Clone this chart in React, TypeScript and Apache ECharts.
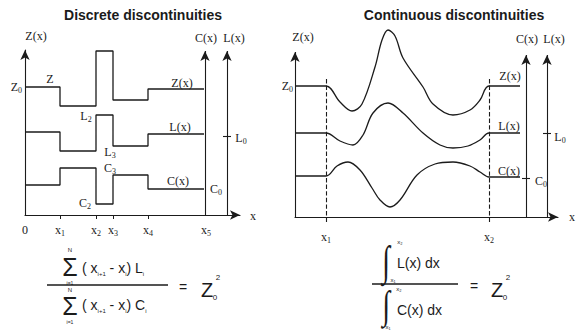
import React, { useEffect, useRef } from "react";
import * as echarts from "echarts";

// ---------- data ----------
// Left panel: discrete steps. x positions of the steps (0, x1..x4, end of curves)
const leftBreaks = [0, 35, 71, 88, 123, 179];
const leftTickValues = [35, 71, 88, 123];
const leftLabelValues = [0, 35, 71, 88, 123, 181];
const leftLabelNames = ["0", "x1", "x2", "x3", "x4", "x5"];
const zDiscrete = [128, 109, 164, 115, 126];
const lDiscrete = [83, 64, 100, 69, 81];
const cDiscrete = [30, 47, 11, 40, 26];
const leftZ0 = 128;
const leftCAxis = 180;
const leftLAxis = 202;
const leftL0 = 79;
const leftAxisTop = 164;

// Right panel: continuous profiles [x, value]
const zContinuous = [
  [0, 131], [31, 131], [45, 115], [57, 106], [67, 113], [80, 150], [87, 177], [93, 187],
  [100, 181], [108, 159], [128, 130], [138, 113], [158, 102], [175, 107], [185, 117],
  [194, 131], [225, 131],
];
const lContinuous = [
  [0, 84], [31, 84], [45, 76], [58, 72], [68, 82], [78, 104], [93, 114], [108, 104],
  [128, 84], [145, 72], [158, 69], [173, 71], [185, 77], [194, 84], [225, 84],
];
const cContinuous = [
  [0, 41], [31, 41], [42, 51], [53, 55], [65, 47], [77, 29], [85, 17], [95, 10],
  [105, 17], [122, 42], [140, 53], [158, 55], [175, 51], [185, 45], [194, 40], [225, 40],
];
const rightBounds = [31, 194]; // x1, x2
const rightLabelNames = ["x1", "x2"];
const rightZ0 = 131;
const rightCAxis = 231;
const rightLAxis = 252;
const rightL0 = 84;
const rightC0 = 39;
const rightAxisTop = 162;
const rightZAxisTop = 165;
const rightDashBottom = -5;
const rightDashTop = 140;

// ---------- styles ----------
const SERIF = "'Liberation Serif', 'Times New Roman', serif";
const SANS = "'Liberation Sans', Arial, sans-serif";
const INK = "#1b1b1b";

const stepData = (levels: number[]) =>
  leftBreaks.map((x, i) => [x, levels[Math.min(i, levels.length - 1)]]);

const axisRich = {
  m: { fontFamily: SERIF, fontSize: 12, lineHeight: 15, color: INK },
  s: { fontFamily: SERIF, fontSize: 8, lineHeight: 9, verticalAlign: "bottom", color: INK },
};
const subLabel = (name: string) =>
  name.length > 1 ? `{m|${name[0]}}{s|${name.slice(1)}}` : `{m|${name}}`;

const lineStyle = { color: INK, width: 1.3 };
const axisLine = (arrow: boolean, show = true) => ({
  show,
  onZero: true,
  symbol: arrow ? ["none", "arrow"] : ["none", "none"],
  symbolSize: [7, 10],
  lineStyle: { color: INK, width: 1.1 },
});

const seg = (a: number[], b: number[], arrow = false, dashed = false) => [
  { coord: a, symbol: "none" },
  {
    coord: b,
    symbol: arrow ? "arrow" : "none",
    symbolSize: [7, 10],
    lineStyle: { type: dashed ? "dashed" : "solid", color: INK, width: 1.1 },
  },
];

// graphic text helper
const gtext = (x: number, y: number, text: string, opt: any = {}) => ({
  type: "text",
  x,
  y,
  silent: true,
  scaleY: opt.scaleY ?? 1,
  style: {
    text,
    font: opt.font ?? `12px ${SERIF}`,
    fill: INK,
    align: opt.align ?? "center",
    verticalAlign: "middle",
    textAlign: opt.align ?? "center",
    textVerticalAlign: "middle",
    rich: opt.rich,
  },
});

const serifRich = {
  m: { fontFamily: SERIF, fontSize: 12, lineHeight: 15, fill: INK },
  s: { fontFamily: SERIF, fontSize: 8, lineHeight: 9, verticalAlign: "bottom", fill: INK },
};
const sansRich = {
  m: { fontFamily: SANS, fontSize: 14, lineHeight: 18, fill: INK },
  s: { fontFamily: SANS, fontSize: 6, lineHeight: 8, verticalAlign: "bottom", fill: INK },
};
const lbl = (x: number, y: number, name: string) =>
  gtext(x, y, subLabel(name), { rich: serifRich });

const option: any = {
  animation: false,
  backgroundColor: "#ffffff",
  grid: [
    { left: 25, top: 50, width: 215, height: 165 },
    { left: 295, top: 52, width: 263, height: 170 },
  ],
  xAxis: [
    {
      gridIndex: 0, type: "value", min: 0, max: 215,
      axisLine: axisLine(true),
      axisTick: { show: true, customValues: leftTickValues, length: 4, lineStyle: { color: INK } },
      axisLabel: {
        show: true, customValues: leftLabelValues, margin: 7,
        formatter: (v: number) => subLabel(leftLabelNames[leftLabelValues.indexOf(v)] ?? ""),
        rich: axisRich,
      },
      splitLine: { show: false },
    },
    {
      gridIndex: 1, type: "value", min: 0, max: 263,
      axisLine: axisLine(true),
      axisTick: { show: false },
      axisLabel: {
        show: true, customValues: rightBounds, margin: 7,
        formatter: (v: number) => subLabel(rightLabelNames[rightBounds.indexOf(v)] ?? ""),
        rich: axisRich,
      },
      splitLine: { show: false },
    },
  ],
  yAxis: [
    {
      gridIndex: 0, type: "value", min: 0, max: 165,
      axisLine: axisLine(true),
      axisTick: { show: false },
      axisLabel: {
        show: true, customValues: [leftZ0], margin: 3,
        formatter: () => subLabel("Z0"), rich: axisRich,
      },
      splitLine: { show: false },
    },
    {
      gridIndex: 1, type: "value", min: -5, max: 165,
      axisLine: axisLine(false, false),
      axisTick: { show: false },
      axisLabel: {
        show: true, customValues: [rightZ0], margin: 2,
        formatter: () => subLabel("Z0"), rich: axisRich,
      },
      splitLine: { show: false },
    },
  ],
  series: [
    {
      name: "Z discrete", type: "line", xAxisIndex: 0, yAxisIndex: 0, step: "end",
      data: stepData(zDiscrete), symbol: "none", lineStyle, silent: true, clip: false,
      markLine: {
        silent: true, animation: false, symbol: ["none", "none"], label: { show: false },
        lineStyle: { color: INK, width: 1.1, type: "solid" },
        data: [
          seg([leftCAxis, 0], [leftCAxis, leftAxisTop], true),
          seg([leftLAxis, 0], [leftLAxis, leftAxisTop], true),
          seg([leftLAxis - 4, leftL0], [leftLAxis + 4, leftL0]),
        ],
      },
    },
    {
      name: "L discrete", type: "line", xAxisIndex: 0, yAxisIndex: 0, step: "end",
      data: stepData(lDiscrete), symbol: "none", lineStyle, silent: true, clip: false,
    },
    {
      name: "C discrete", type: "line", xAxisIndex: 0, yAxisIndex: 0, step: "end",
      data: stepData(cDiscrete), symbol: "none", lineStyle, silent: true, clip: false,
    },
    {
      name: "Z continuous", type: "line", xAxisIndex: 1, yAxisIndex: 1, smooth: 0.35,
      data: zContinuous, symbol: "none", lineStyle, silent: true, clip: false,
      markLine: {
        silent: true, animation: false, symbol: ["none", "none"], label: { show: false },
        lineStyle: { color: INK, width: 1.1, type: "solid" },
        data: [
          seg([0, 0], [0, rightZAxisTop], true),
          seg([rightBounds[0], rightDashBottom], [rightBounds[0], rightDashTop], false, true),
          seg([rightBounds[1], rightDashBottom], [rightBounds[1], rightDashTop], false, true),
          seg([rightCAxis, 0], [rightCAxis, rightAxisTop], true),
          seg([rightLAxis, 0], [rightLAxis, rightAxisTop], true),
          seg([rightLAxis - 4, rightL0], [rightLAxis + 4, rightL0]),
          seg([rightCAxis - 4, rightC0], [rightCAxis + 4, rightC0]),
        ],
      },
    },
    {
      name: "L continuous", type: "line", xAxisIndex: 1, yAxisIndex: 1, smooth: 0.35,
      data: lContinuous, symbol: "none", lineStyle, silent: true, clip: false,
    },
    {
      name: "C continuous", type: "line", xAxisIndex: 1, yAxisIndex: 1, smooth: 0.35,
      data: cContinuous, symbol: "none", lineStyle, silent: true, clip: false,
    },
  ],
  graphic: [
    // titles
    gtext(143, 15, "Discrete discontinuities", { font: `bold 14px ${SANS}` }),
    gtext(454, 15, "Continuous discontinuities", { font: `bold 14px ${SANS}` }),
    // left panel labels
    gtext(36, 36, "Z(x)"),
    gtext(206, 38, "C(x)"),
    gtext(234, 38, "L(x)"),
    gtext(50, 79, "Z"),
    gtext(182, 83, "Z(x)"),
    lbl(86, 116, "L2"),
    gtext(180, 127, "L(x)"),
    lbl(241, 138, "L0"),
    lbl(110, 152, "L3"),
    lbl(110, 168, "C3"),
    gtext(178, 181, "C(x)"),
    lbl(216, 189, "C0"),
    lbl(85, 203, "C2"),
    gtext(253, 216, "x"),
    // right panel labels
    gtext(303, 37, "Z(x)"),
    gtext(527, 39, "C(x)"),
    gtext(554, 39, "L(x)"),
    gtext(510, 76, "Z(x)"),
    gtext(509, 126, "L(x)"),
    gtext(509, 171, "C(x)"),
    lbl(541, 181, "C0"),
    lbl(560, 137, "L0"),
    gtext(572, 217, "x"),
    // left formula
    gtext(70, 250, "N", { font: `6px ${SANS}` }),
    gtext(70, 267, "Σ", { font: `25px ${SANS}` }),
    gtext(70, 283, "i=1", { font: `5px ${SANS}` }),
    gtext(82, 268, "{m|( x}{s|i+1}{m| - x}{s|i}{m|) L}{s|i}", { align: "left", rich: sansRich }),
    {
      type: "line", silent: true,
      shape: { x1: 47, y1: 285, x2: 168, y2: 285 },
      style: { stroke: INK, lineWidth: 1.3 },
    },
    gtext(70, 290, "N", { font: `6px ${SANS}` }),
    gtext(70, 306, "Σ", { font: `25px ${SANS}` }),
    gtext(70, 322, "i=1", { font: `5px ${SANS}` }),
    gtext(82, 305, "{m|( x}{s|i+1}{m| - x}{s|i}{m|) C}{s|i}", { align: "left", rich: sansRich }),
    gtext(183, 287, "=", { font: `14px ${SANS}` }),
    gtext(207, 290, "Z", { font: `20px ${SANS}` }),
    gtext(215, 297, "0", { font: `8px ${SANS}` }),
    gtext(218, 277, "2", { font: `8px ${SANS}` }),
    // right formula
    gtext(386, 261, "∫", { font: `bold 28px ${SERIF}`, scaleY: 1.5 }),
    gtext(400, 242, "x₂", { font: `6px ${SANS}` }),
    gtext(393, 280, "x₁", { font: `6px ${SANS}` }),
    gtext(397, 263, "L(x) dx", { font: `14px ${SANS}`, align: "left" }),
    {
      type: "line", silent: true,
      shape: { x1: 372, y1: 284, x2: 458, y2: 284 },
      style: { stroke: INK, lineWidth: 1.3 },
    },
    gtext(386, 305, "∫", { font: `bold 28px ${SERIF}`, scaleY: 1.4 }),
    gtext(399, 289, "x₂", { font: `6px ${SANS}` }),
    gtext(388, 327, "x₁", { font: `6px ${SANS}` }),
    gtext(397, 310, "C(x) dx", { font: `14px ${SANS}`, align: "left" }),
    gtext(474, 286, "=", { font: `14px ${SANS}` }),
    gtext(497, 290, "Z", { font: `20px ${SANS}` }),
    gtext(505, 297, "0", { font: `8px ${SANS}` }),
    gtext(508, 277, "2", { font: `8px ${SANS}` }),
  ],
};

export default function App() {
  const ref = useRef<HTMLDivElement>(null);
  useEffect(() => {
    const chart = echarts.init(ref.current!, null, { renderer: "svg" });
    chart.setOption(option);
    return () => chart.dispose();
  }, []);
  return (
    <div
      ref={ref}
      style={{ width: 579, height: 330, position: "absolute", left: 0, top: 0, background: "#fff" }}
    />
  );
}
